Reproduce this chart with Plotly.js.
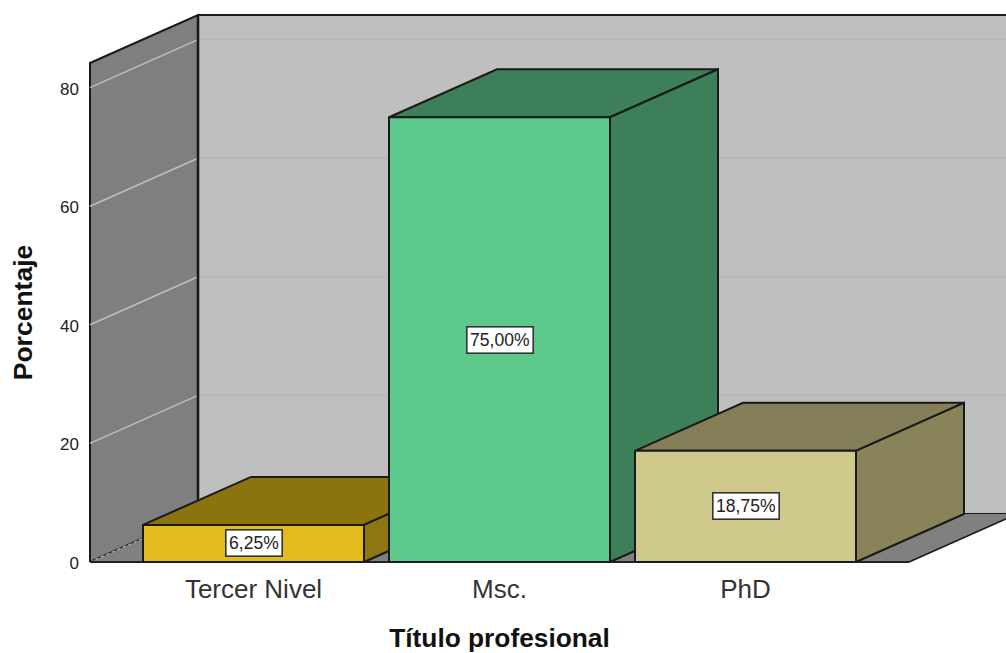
<!DOCTYPE html>
<html>
<head>
<meta charset="utf-8">
<script src="https://cdn.plot.ly/plotly-3.0.1.min.js"></script>
<style>html,body{margin:0;padding:0;background:#fff;overflow:hidden}#c{width:1006px;height:653px}</style>
</head>
<body>
<div id="c"></div>
<script>
var categories = ["Tercer Nivel", "Msc.", "PhD"];
var percentages = [6.25, 75.0, 18.75];
var yTicks = [0, 20, 40, 60, 80];
var frontColors = ["#E2BB1C", "#5DCA8C", "#CFC98B"];
var topColors = ["#8B7310", "#3C7F58", "#837E57"];
var sideColors = ["#8F7612", "#3C7F58", "#888359"];

var W = 1006, H = 653, L = 90, R = 909, T = 63, B = 562;
var PXX = 246, PXY = 5.93, X0 = 253.5;
var xMin = (L - X0) / PXX, xMax = (R - X0) / PXX;
var DX = 108 / PXX, DY = 48 / PXY, HALF = 110.5 / PXX;
var wallTop = (B - T) / PXY;
var EDGE = "#1a1a1a";
var FONT = "Liberation Sans, Arial, sans-serif";
var traces = [];

function poly(xs, ys, fill, lw, lc) {
  traces.push({
    type: "scatter", mode: "lines", xaxis: "x2", yaxis: "y2",
    x: xs.concat([xs[0]]), y: ys.concat([ys[0]]),
    fill: "toself", fillcolor: fill, line: {color: lc || EDGE, width: lw === undefined ? 2 : lw},
    hoverinfo: "skip", showlegend: false
  });
}
function seg(xs, ys, color, width, dash) {
  traces.push({
    type: "scatter", mode: "lines", xaxis: "x2", yaxis: "y2", x: xs, y: ys,
    line: {color: color, width: width, dash: dash || "solid"},
    hoverinfo: "skip", showlegend: false
  });
}

// category positions on the labelled axes
traces.push({
  type: "scatter", mode: "markers", x: [0, 1, 2], y: percentages,
  marker: {size: 1, opacity: 0}, hoverinfo: "skip", showlegend: false
});

// back wall, side wall, floor
poly([xMin + DX, xMax + DX, xMax + DX, xMin + DX], [DY, DY, wallTop + DY, wallTop + DY], "#BFBFBF", 2);
poly([xMin, xMin + DX, xMin + DX, xMin], [0, DY, wallTop + DY, wallTop], "#7F7F7F", 2);
poly([xMin, xMax, xMax + DX, xMin + DX], [0, 0, DY, DY], "#808080", 0);

// gridlines
yTicks.forEach(function (t) {
  if (t > 0) {
    seg([xMin, xMin + DX], [t, t + DY], "#BEBEBE", 1.5);
    seg([xMin + DX, xMax + DX], [t + DY, t + DY], "#B6B6B6", 1.5);
  }
});
seg([xMin, xMin + DX], [0, DY], "#B4B4B4", 1.2, "dot");
seg([xMin + DX, xMin + DX], [DY, wallTop + DY], EDGE, 2.6);
seg([xMin, xMax], [0, 0], "#222222", 2);
seg([xMax, xMax + DX], [0, DY], "#1a1a1a", 1.6);

// bars
categories.forEach(function (c, i) {
  var a = i - HALF, b = i + HALF, v = percentages[i];
  poly([a, b, b + DX, a + DX], [v, v, v + DY, v + DY], topColors[i]);
  poly([b, b + DX, b + DX, b], [0, DY, v + DY, v], sideColors[i]);
  poly([a, b, b, a], [0, 0, v, v], frontColors[i]);
});

var labels = categories.map(function (c, i) {
  return {
    x: i, y: percentages[i] / 2, xref: "x2", yref: "y2", showarrow: false,
    text: percentages[i].toFixed(2).replace(".", ",") + "%",
    font: {family: FONT, size: 17.5, color: "#222"},
    bgcolor: "#ffffff", bordercolor: "#333333", borderwidth: 1.6, borderpad: 2.5
  };
});

var layout = {
  width: W, height: H,
  margin: {l: 0, r: 0, t: 0, b: 0, pad: 0},
  paper_bgcolor: "#ffffff", plot_bgcolor: "rgba(0,0,0,0)",
  showlegend: false,
  annotations: labels,
  xaxis: {
    domain: [L / W, R / W], anchor: "y",
    range: [xMin, xMax], tickmode: "array",
    tickvals: categories.map(function (c, i) { return i; }), ticktext: categories,
    showgrid: false, zeroline: false, showline: false, ticks: "",
    tickfont: {family: FONT, size: 26, color: "#333"},
    ticklabelstandoff: 9,
    title: {text: "Título profesional", standoff: 30,
      font: {family: FONT, size: 26.3, color: "#111", weight: "bold"}}
  },
  yaxis: {
    domain: [(H - B) / H, (H - T) / H], anchor: "x",
    range: [0, wallTop], tickmode: "array", tickvals: yTicks, ticktext: yTicks.map(String),
    showgrid: false, zeroline: false, showline: false, ticks: "",
    tickfont: {family: FONT, size: 17, color: "#222"},
    ticklabelstandoff: 10, ticklabelshift: 1,
    title: {text: "Porcentaje", standoff: 19,
      font: {family: FONT, size: 26.5, color: "#111", weight: "bold"}}
  },
  xaxis2: {
    domain: [0, 1], anchor: "y2", range: [(0 - X0) / PXX, (W - X0) / PXX],
    visible: false
  },
  yaxis2: {
    domain: [0, 1], anchor: "x2", range: [(B - H) / PXY, B / PXY],
    visible: false
  }
};
Plotly.newPlot("c", traces, layout, {displayModeBar: false, staticPlot: true});
</script>
</body>
</html>
